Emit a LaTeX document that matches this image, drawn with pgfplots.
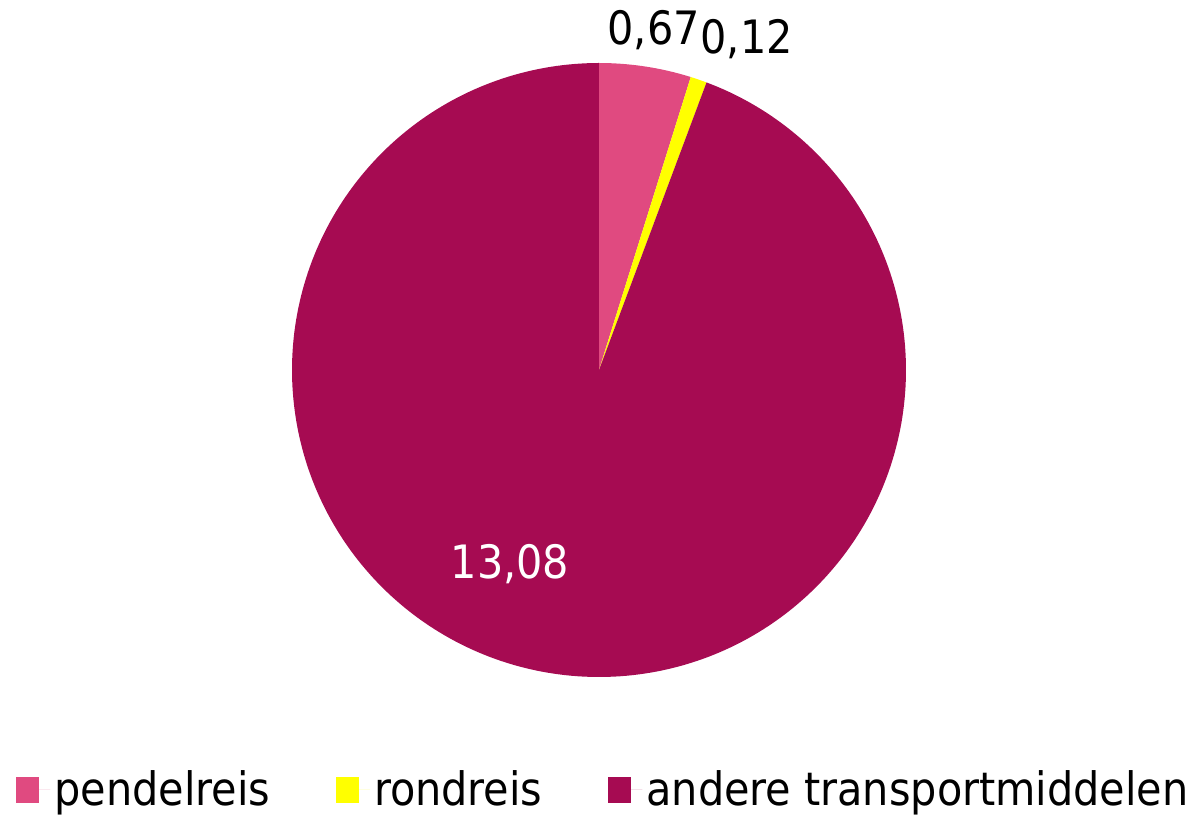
\documentclass[border=0pt]{standalone}
\usepackage{pgfplots}
\pgfplotsset{compat=1.18}
\usepackage{fontspec}
\setmainfont{DejaVu Sans Condensed}
\definecolor{cpend}{HTML}{E04A80}
\definecolor{crond}{HTML}{FFFF00}
\definecolor{cand}{HTML}{A60B52}
\begin{document}
\begin{tikzpicture}
\def\vA{0.67}\def\vB{0.12}\def\vC{13.08}
\pgfmathsetmacro\tot{\vA+\vB+\vC}
\pgfmathsetmacro\aA{90}
\pgfmathsetmacro\aB{90-360*\vA/\tot}
\pgfmathsetmacro\aC{\aB-360*\vB/\tot}
\pgfmathsetmacro\aD{\aC-360*\vC/\tot}
\begin{axis}[
 x=153.5pt, y=153.5pt, hide axis, scale only axis,
 xmin=-1.9511, xmax=1.9707, ymin=-1.4495, ymax=1.2052,
 clip=false,
 legend columns=3,
 legend style={at={(axis cs:0.018,-1.368)}, anchor=center, draw=none, fill=none,
   font=\fontsize{23}{27}\selectfont,
   /tikz/every even column/.append style={column sep=31pt}},
 legend image code/.code={\fill[#1] (0pt,-6.5pt) rectangle (11.5pt,6.5pt);\path (0pt,0pt) -- (17pt,0pt);},
]
\path (rel axis cs:0,0) rectangle (rel axis cs:1,1);
\addplot[draw=none, fill=cpend, domain=\aB:\aA, samples=40, variable=\t] ({cos(\t)},{sin(\t)}) -- (axis cs:0,0) -- cycle;
\addlegendentry{pendelreis}
\addplot[draw=none, fill=crond, domain=\aC:\aB, samples=10, variable=\t] ({cos(\t)},{sin(\t)}) -- (axis cs:0,0) -- cycle;
\addlegendentry{rondreis}
\addplot[draw=none, fill=cand, domain=\aD:\aC, samples=300, variable=\t] ({cos(\t)},{sin(\t)}) -- (axis cs:0,0) -- cycle;
\addlegendentry{andere transportmiddelen}
\node[font=\fontsize{23}{27}\selectfont, text=black] at (axis cs:0.178,1.107) {0,67};
\node[font=\fontsize{23}{27}\selectfont, text=black] at (axis cs:0.481,1.078) {0,12};
\node[font=\fontsize{23}{27}\selectfont, text=white] at (axis cs:-0.290,-0.632) {13,08};
\end{axis}
\end{tikzpicture}
\end{document}
